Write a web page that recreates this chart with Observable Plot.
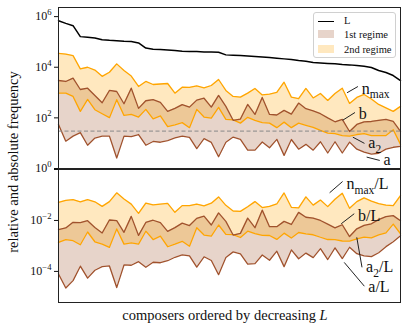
<!DOCTYPE html>
<html>
<head>
<meta charset="utf-8">
<script src="https://cdn.jsdelivr.net/npm/d3@7"></script>
<script src="https://cdn.jsdelivr.net/npm/@observablehq/plot@0.6"></script>
<style>
  html, body { margin: 0; padding: 0; background: #fff; }
  #wrap { position: relative; width: 415px; height: 332px; overflow: hidden; font-family: "Liberation Serif", "DejaVu Serif", serif; color: #111; }
  #wrap svg { position: absolute; left: 0; overflow: visible; font-family: "Liberation Serif", "DejaVu Serif", serif !important; }
  #wrap svg text { font-family: "Liberation Serif", "DejaVu Serif", serif !important; }
  .ylab { position: absolute; left: 13px; top: 162px; transform: translate(-50%, -50%) rotate(-90deg); white-space: nowrap; font-size: 14.5px; }
  .xlab { position: absolute; left: 225px; top: 315px; transform: translate(-50%, -50%); white-space: nowrap; font-size: 14.5px; }
  .legend { position: absolute; left: 313px; top: 12px; width: 83px; height: 46px; border: 1px solid #d0d0d0; border-radius: 3px; background: rgba(255,255,255,0.85); font-size: 10.5px; box-sizing: border-box; }
  .legend .row { position: absolute; left: 0; height: 12px; width: 100%; }
  .legend .sw { position: absolute; left: 4px; top: 0px; width: 15.5px; height: 8px; }
  .legend .ln { position: absolute; left: 4px; top: 4.5px; width: 15.5px; height: 0; border-top: 1.5px solid #000; }
  .legend .tx { position: absolute; left: 30px; top: -1px; line-height: 12px; }
</style>
</head>
<body>
<div id="wrap"></div>
<script>
// ---- data ----
const composers = d3.range(48);
const L = [690000,540000,438000,162000,152000,144000,123000,116000,112000,106000,103000,91400,57000,51100,49800,48400,45400,42700,42000,41500,40400,40000,39000,30800,29900,28900,27600,26400,25200,24100,22800,21400,20100,18400,17200,15300,14600,14000,13600,12800,12400,11700,10900,9730,7410,6180,4710,2990];
const nmax = [35600,33100,28900,8650,10000,7760,4380,6350,13600,7410,4500,1740,2740,2080,2180,2280,947,1630,1600,1820,1520,1900,3280,1210,702,659,947,1450,805,865,1010,2570,659,570,1450,613,922,489,922,1490,372,641,842,560,340,248,180,284];
const b = [2990,2740,3690,1320,1490,769,397,1210,1100,362,1490,237,475,521,408,180,237,334,266,502,597,266,769,284,80,90,340,137,641,137,130,197,140,383,230,189,146,100,70,87,29,55,70,72,80,87,73,29];
const a2 = [947,947,702,180,535,210,146,102,521,125,137,108,216,91,120,45,53,65,41,216,108,97,259,87,83,62,105,80,65,62,41,68,41,62,51,42,32,25,24,20,19,22,24,20,20,20,34,9];
const a = [55,12,19,26,8.3,16,19,19,2.6,19,18,22,8.3,11.7,10.9,12.7,16.3,19,17,6.1,15.2,10.7,2.9,10.9,17.5,14.2,5.3,5.3,11.1,6.6,14.2,3.3,14,5.8,9,5.3,11.4,4.1,11.4,4.1,11,5.8,4.4,3.7,4.0,5.8,6.9,7.5];
const threshold = 30;
const topTicks = [1, 1e2, 1e4, 1e6];
const bottomTicks = [1, 1e-2, 1e-4];
const legendLabels = ["L", "1st regime", "2nd regime"];

// annotations (data coordinates: composer index, value)
const topNotes = [
  {label: "n_{max}", tx: 41.4, ty: 1450, x1: 41.1, y1: 1700, x2: 39.7, y2: 1000, bend: -35},
  {label: "b",       tx: 41.0, ty: 150,  x1: 40.7, y1: 160,  x2: 39.1, y2: 82,   bend: -35},
  {label: "a_{2}",   tx: 42.3, ty: 10.5, x1: 42.0, y1: 10,   x2: 40.5, y2: 17,   bend: 15},
  {label: "a",       tx: 44.4, ty: 2.1,  x1: 44.1, y1: 2.1,  x2: 42.4, y2: 2.8,  bend: 10}
];
const bottomNotes = [
  {label: "n_{max}/L", tx: 39.3, ty: 0.28,    x1: 39.0, y1: 0.33,    x2: 37.3, y2: 0.125,   bend: -35},
  {label: "b/L",       tx: 40.9, ty: 0.0155,  x1: 40.6, y1: 0.018,   x2: 38.9, y2: 0.0076,  bend: -35},
  {label: "a_{2}/L",   tx: 42.0, ty: 1.5e-4,  x1: 41.7, y1: 1.5e-4,  x2: 41.0, y2: 0.0021,  bend: 40},
  {label: "a/L",       tx: 42.3, ty: 2.5e-5,  x1: 42.0, y1: 2.7e-5,  x2: 39.3, y2: 2.2e-4,  bend: 40}
];

// ---- build tables ----
const abs = composers.map(i => ({i, L: L[i], nmax: nmax[i], b: b[i], a2: a2[i], a: a[i]}));
const rel = abs.map(d => ({i: d.i, nmax: d.nmax / d.L, b: d.b / d.L, a2: d.a2 / d.L, a: d.a / d.L}));

const ORANGE = "#ffa500", BROWN = "#a0522d";
const SERIF = "'Liberation Serif', 'DejaVu Serif', serif";
const font = {fontFamily: SERIF, fontSize: "12px", background: "transparent", color: "#111", overflow: "visible"};
const pow = d => `10^{${String(Math.round(Math.log10(d))).replace("-", "\u2212")}}`;

function bandMarks(data) {
  return [
    Plot.areaY(data, {x: "i", y1: "a", y2: "b", fill: BROWN, fillOpacity: 0.25}),
    Plot.areaY(data, {x: "i", y1: "a2", y2: "nmax", fill: ORANGE, fillOpacity: 0.25}),
    Plot.lineY(data, {x: "i", y: "nmax", stroke: ORANGE, strokeWidth: 1.3}),
    Plot.lineY(data, {x: "i", y: "a2", stroke: ORANGE, strokeWidth: 1.3}),
    Plot.lineY(data, {x: "i", y: "b", stroke: BROWN, strokeWidth: 1.3}),
    Plot.lineY(data, {x: "i", y: "a", stroke: BROWN, strokeWidth: 1.3})
  ];
}
function noteMarks(notes) {
  return [
    Plot.arrow(notes, {x1: "x1", y1: "y1", x2: "x2", y2: "y2", bend: d => d.bend, stroke: "#222", strokeWidth: 1, headLength: 6}),
    Plot.text(notes, {x: "tx", y: "ty", text: "label", textAnchor: "start", dx: 2, fontSize: 16, fill: "#111"})
  ];
}

const topPlot = Plot.plot({
  width: 415, height: 169,
  marginLeft: 58, marginRight: 15, marginTop: 7, marginBottom: 1,
  style: font,
  x: {domain: [0, 47], axis: null},
  y: {type: "log", domain: [1, Math.pow(10, 6.36)], ticks: topTicks, tickFormat: pow, tickSize: 4, tickPadding: 3, label: null},
  marks: [
    ...bandMarks(abs),
    Plot.ruleY([threshold], {stroke: "#888", strokeWidth: 1, strokeDasharray: "4,2.5"}),
    Plot.lineY(abs, {x: "i", y: "L", stroke: "#000", strokeWidth: 1.5}),
    ...noteMarks(topNotes),
    Plot.frame({stroke: "#222", strokeWidth: 1})
  ]
});

const bottomPlot = Plot.plot({
  width: 415, height: 164,
  marginLeft: 58, marginRight: 15, marginTop: 1, marginBottom: 30,
  style: font,
  x: {domain: [0, 47], axis: null},
  y: {type: "log", domain: [Math.pow(10, -5.22), 1], ticks: bottomTicks, tickFormat: d => d === 1 ? "" : pow(d), tickSize: 4, tickPadding: 3, label: null},
  marks: [
    ...bandMarks(rel),
    ...noteMarks(bottomNotes),
    Plot.frame({stroke: "#222", strokeWidth: 1})
  ]
});

const wrap = document.getElementById("wrap");
topPlot.style.top = "0px";
bottomPlot.style.top = "168px";
wrap.appendChild(topPlot);
wrap.appendChild(bottomPlot);

// rich text: _{sub}, ^{sup}
function rich(t) {
  t.setAttribute("font-family", SERIF);
  const s = t.textContent;
  if (!/[_^]\{/.test(s)) return;
  const fs = parseFloat(getComputedStyle(t).fontSize) || 12;
  t.textContent = "";
  const re = /([_^])\{([^}]*)\}|([^_^]+)/g;
  let m, shift = 0;
  while ((m = re.exec(s))) {
    const ts = document.createElementNS("http://www.w3.org/2000/svg", "tspan");
    let target = 0, small = false, txt;
    if (m[1] === "_") { target = 0.3 * fs; small = true; txt = m[2]; }
    else if (m[1] === "^") { target = -0.45 * fs; small = true; txt = m[2]; }
    else txt = m[3];
    const dy = target - shift;
    if (dy) ts.setAttribute("dy", dy);
    shift = target;
    if (small) ts.setAttribute("font-size", (0.72 * fs).toFixed(1));
    ts.textContent = txt;
    t.appendChild(ts);
  }
}
wrap.querySelectorAll("svg text").forEach(rich);

// axis labels
const yl = document.createElement("div");
yl.className = "ylab"; yl.textContent = "relative and absolute frequency";
wrap.appendChild(yl);
const xl = document.createElement("div");
xl.className = "xlab"; xl.innerHTML = "composers ordered by decreasing <i>L</i>";
wrap.appendChild(xl);

// legend
const lg = document.createElement("div");
lg.className = "legend";
const swatches = [
  {cls: "ln", style: ""},
  {cls: "sw", style: `background:${BROWN};opacity:0.25`},
  {cls: "sw", style: `background:${ORANGE};opacity:0.25`}
];
legendLabels.forEach((lab, k) => {
  const row = document.createElement("div");
  row.className = "row";
  row.style.top = (3 + k * 14.3) + "px";
  row.innerHTML = `<div class="${swatches[k].cls}" style="${swatches[k].style}"></div><div class="tx">${lab}</div>`;
  lg.appendChild(row);
});
wrap.appendChild(lg);
</script>
</body>
</html>
